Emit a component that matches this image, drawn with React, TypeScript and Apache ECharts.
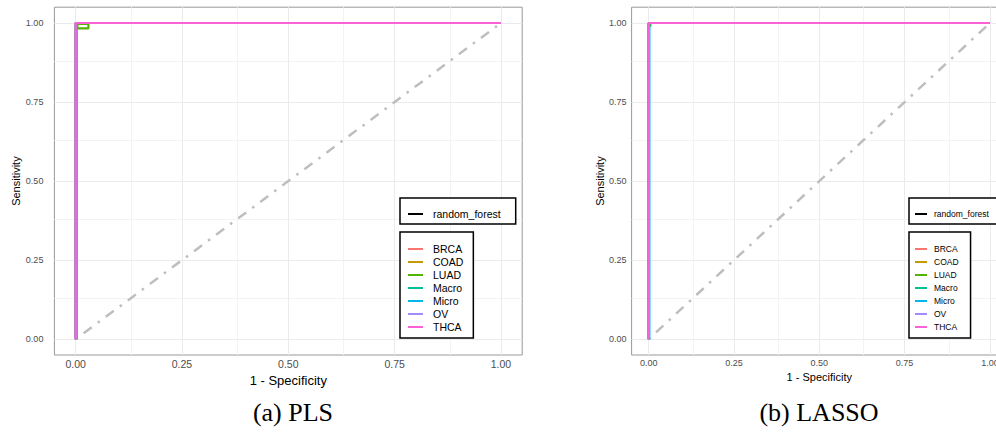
import React, { useEffect, useRef } from "react";
import * as echarts from "echarts";

// ---- data ----
const categories = ["BRCA", "COAD", "LUAD", "Macro", "Micro", "OV", "THCA"];
const classColors = ["#F8766D", "#C49A00", "#53B400", "#00C094", "#00B6EB", "#A58AFF", "#FB61D7"];
const modelName = "random_forest";
const majorTicks = [0, 0.25, 0.5, 0.75, 1];
const minorTicks = [0.125, 0.375, 0.625, 0.875];
const diagonal = [[0, 0], [1, 1]];

// PLS panel: [1 - specificity, sensitivity]
const plsBRCA = [[0, 0], [0, 1], [1, 1]];
const plsCOAD = [[0, 0], [0, 1], [1, 1]];
const plsLUAD = [[0.002, 0], [0.002, 0.983], [0.03, 0.983], [0.03, 0.997], [0.004, 0.997], [0.004, 0.983], [0.004, 1], [1, 1]];
const plsMacro = [[0, 0], [0, 1], [1, 1]];
const plsMicro = [[0.002, 0], [0.002, 0.98], [0.002, 1], [1, 1]];
const plsOV = [[0, 0], [0, 1], [1, 1]];
const plsTHCA = [[0, 0], [0, 1], [1, 1]];

// LASSO panel
const lassoBRCA = [[0, 0], [0, 1], [1, 1]];
const lassoCOAD = [[0, 0], [0, 1], [1, 1]];
const lassoLUAD = [[0, 0], [0, 0.99], [0.005, 0.99], [0.005, 1], [1, 1]];
const lassoMacro = [[0, 0], [0, 1], [1, 1]];
const lassoMicro = [[0.002, 0], [0.002, 0.994], [0.002, 1], [1, 1]];
const lassoOV = [[0, 0], [0, 1], [1, 1]];
const lassoTHCA = [[0, 0], [0, 1], [1, 1]];

const plsData = [plsBRCA, plsCOAD, plsLUAD, plsMacro, plsMicro, plsOV, plsTHCA];
const lassoData = [lassoBRCA, lassoCOAD, lassoLUAD, lassoMacro, lassoMicro, lassoOV, lassoTHCA];

const captions = ["(a) PLS", "(b) LASSO"];

const FONT = "Liberation Sans";

function gridSeries(idx: number, name: string, values: number[], color: string) {
  return {
    name: name + idx,
    type: "line",
    xAxisIndex: idx,
    yAxisIndex: idx,
    data: [],
    z: 1,
    silent: true,
    markLine: {
      z: 1,
      silent: true,
      symbol: ["none", "none"],
      label: { show: false },
      lineStyle: { color, width: 1, type: "solid" },
      emphasis: { disabled: true },
      data: [...values.map((v) => ({ xAxis: v })), ...values.map((v) => ({ yAxis: v }))],
    },
  };
}

function panelSeries(idx: number, data: number[][][]) {
  const s: any[] = [];
  s.push(gridSeries(idx, "gridMinor", minorTicks, "#F3F3F3"));
  s.push(gridSeries(idx, "gridMajor", majorTicks, "#EBEBEB"));
  s.push({
    name: "diag" + idx,
    type: "line",
    xAxisIndex: idx,
    yAxisIndex: idx,
    data: diagonal,
    symbol: "none",
    z: 2,
    silent: true,
    lineStyle: { color: "#BEBEBE", width: 2.5, type: [2.5, 7.5, 10, 7.5], cap: "butt" },
  });
  categories.forEach((c, i) => {
    s.push({
      name: c,
      type: "line",
      xAxisIndex: idx,
      yAxisIndex: idx,
      data: data[i],
      symbol: "none",
      z: 3,
      color: classColors[i],
      lineStyle: { color: classColors[i], width: 2.2 },
    });
  });
  return s;
}

export default function App() {
  const ref = useRef<HTMLDivElement>(null);
  useEffect(() => {
    if (!ref.current) return;
    const chart = echarts.init(ref.current, undefined, { renderer: "svg" });
    const fmt = (v: number) => v.toFixed(2);
    const gridTop = 7.2;
    const gridH = 347.8;
    const mkX = (idx: number, fontSize: number, nameSize: number, nameGap: number) => ({
      gridIndex: idx,
      type: "value",
      min: -0.05,
      max: 1.05,
      axisLine: { show: false },
      splitLine: { show: false },
      axisTick: { show: true, customValues: majorTicks, length: 3, lineStyle: { color: "#333", width: 1 } },
      axisLabel: {
        customValues: majorTicks,
        formatter: fmt,
        fontSize,
        color: "#4D4D4D",
        margin: 3,
        fontFamily: FONT,
      },
      name: "1 - Specificity",
      nameLocation: "middle",
      nameGap,
      nameTextStyle: { fontSize: nameSize, color: "#000", fontFamily: FONT },
    });
    const mkY = (idx: number, tickLen: number, margin: number, nameGap: number) => ({
      gridIndex: idx,
      type: "value",
      min: -0.05,
      max: 1.05,
      axisLine: { show: false },
      splitLine: { show: false },
      axisTick: { show: true, customValues: majorTicks, length: tickLen, lineStyle: { color: "#333", width: 1 } },
      axisLabel: {
        customValues: majorTicks,
        formatter: fmt,
        fontSize: 9,
        color: "#4D4D4D",
        margin,
        fontFamily: FONT,
      },
      name: "Sensitivity",
      nameLocation: "middle",
      nameGap,
      nameTextStyle: { fontSize: 11, color: "#000", fontFamily: FONT },
    });
    const mkLegend = (
      names: string[],
      left: number,
      top: number,
      padding: number[],
      itemWidth: number,
      fontSize: number,
      textPad: number
    ) => ({
      data: names,
      orient: "vertical",
      left,
      top,
      z: 10,
      padding,
      itemWidth,
      itemHeight: 2,
      itemGap: 0,
      icon: "rect",
      selectedMode: false,
      borderColor: "#000",
      borderWidth: 1.5,
      borderRadius: 0,
      backgroundColor: "#fff",
      textStyle: { fontSize, color: "#000", fontFamily: FONT, lineHeight: 13, padding: [0, 0, 0, textPad] },
    });

    const option: any = {
      animation: false,
      backgroundColor: "#fff",
      grid: [
        {
          left: 54.4,
          top: gridTop,
          width: 467.8,
          height: gridH,
          show: true,
          borderColor: "#999",
          borderWidth: 1,
          backgroundColor: "#fff",
          containLabel: false,
          outerBoundsMode: "none",
        },
        {
          left: 631.6,
          top: gridTop,
          width: 375.4,
          height: gridH,
          show: true,
          borderColor: "#999",
          borderWidth: 1,
          backgroundColor: "#fff",
          containLabel: false,
          outerBoundsMode: "none",
        },
      ],
      xAxis: [mkX(0, 10.5, 13, 10), mkX(1, 9, 11, 10.5)],
      yAxis: [mkY(0, 5.5, 11, 33), mkY(1, 3.5, 5, 24)],
      legend: [
        mkLegend([modelName], 400, 198, [9.5, 15, 3.5, 8], 15, 10.5, 5),
        mkLegend(categories, 400, 232, [10.5, 10, 4.5, 8], 15, 10.5, 5),
        mkLegend([modelName], 909, 198, [9.5, 16, 3.5, 6], 12, 8.5, 2),
        mkLegend(categories, 909, 232, [10.5, 12, 4.5, 6], 12, 8.5, 2),
      ],
      series: [
        {
          name: modelName,
          type: "line",
          xAxisIndex: 0,
          yAxisIndex: 0,
          data: [],
          symbol: "none",
          color: "#000",
          lineStyle: { color: "#000", width: 2 },
        },
        ...panelSeries(0, plsData),
        ...panelSeries(1, lassoData),
      ],
      graphic: [
        {
          type: "text",
          x: 293,
          y: 412,
          style: {
            text: captions[0],
            fontSize: 26,
            fontFamily: "Liberation Serif",
            fill: "#000",
            align: "center",
            verticalAlign: "middle",
          },
        },
        {
          type: "text",
          x: 819,
          y: 412,
          style: {
            text: captions[1],
            fontSize: 26,
            fontFamily: "Liberation Serif",
            fill: "#000",
            align: "center",
            verticalAlign: "middle",
          },
        },
      ],
    };
    chart.setOption(option);
    return () => chart.dispose();
  }, []);
  return (
    <div
      ref={ref}
      style={{ position: "absolute", left: 0, top: 0, width: 996, height: 433, background: "#fff" }}
    />
  );
}
